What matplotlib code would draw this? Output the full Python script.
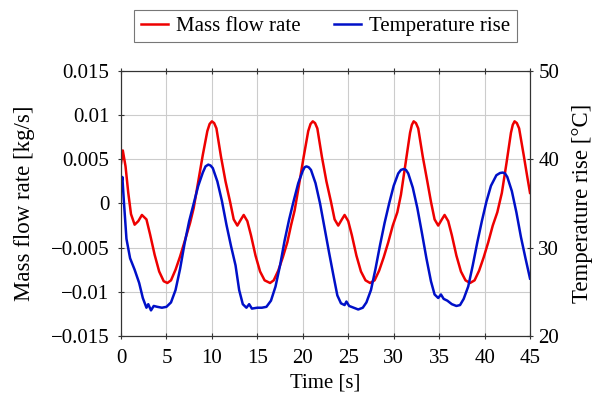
import numpy as np
import matplotlib
matplotlib.use('Agg')
import matplotlib.pyplot as plt
from matplotlib.ticker import FixedLocator, FixedFormatter

plt.rcParams['font.family'] = ['Liberation Serif', 'DejaVu Serif']

# mass flow rate [kg/s]
t_flow = [0.0, 0.2, 0.5, 0.8, 1.1, 1.5, 1.9, 2.3, 2.8, 3.2, 3.7, 4.2, 4.7, 5.1,
          5.5, 6.0, 6.5, 7.0, 7.6, 8.0, 8.5, 9.0, 9.5, 9.75, 10.0,
          10.25, 10.5, 11.0, 11.5, 12.0, 12.4, 12.8, 13.2, 13.5, 13.9, 14.3, 14.8, 15.3, 15.8, 16.4,
          16.8, 17.3, 17.8, 18.3, 18.7, 19.1, 19.6, 20.1, 20.6, 20.85, 21.1,
          21.35, 21.6, 22.1, 22.6, 23.1, 23.5, 23.9, 24.3, 24.6, 25.0, 25.4, 25.9, 26.4, 26.9, 27.4,
          27.9, 28.4, 28.9, 29.4, 29.9, 30.4, 30.8, 31.3, 31.8, 32.0, 32.2,
          32.45, 32.7, 33.2, 33.7, 34.1, 34.5, 34.9, 35.3, 35.6, 36.0, 36.4, 36.9, 37.4, 37.9, 38.4,
          38.9, 39.4, 39.9, 40.4, 40.9, 41.4, 41.9, 42.4, 42.9, 43.1, 43.3,
          43.55, 43.8, 44.3, 44.7, 45.0]
flow = [0.0045, 0.0060, 0.0042, 0.0012, -0.0012, -0.0024, -0.0020, -0.0013, -0.0018, -0.0035, -0.0058, -0.0077, -0.0088, -0.0090,
        -0.0087, -0.0075, -0.0060, -0.0043, -0.0022, -0.0005, 0.0025, 0.0055, 0.0082, 0.0090, 0.0093,
        0.0091, 0.0085, 0.0053, 0.0025, 0.0002, -0.0018, -0.0025, -0.0018, -0.0013, -0.0020, -0.0036, -0.0059, -0.0077, -0.0087, -0.0090,
        -0.0087, -0.0076, -0.0061, -0.0044, -0.0025, -0.0008, 0.0022, 0.0053, 0.0082, 0.0090, 0.0093,
        0.0091, 0.0085, 0.0053, 0.0025, 0.0002, -0.0018, -0.0025, -0.0018, -0.0013, -0.0020, -0.0036, -0.0059, -0.0077, -0.0087, -0.0090,
        -0.0087, -0.0076, -0.0061, -0.0044, -0.0025, -0.0010, 0.0010, 0.0045, 0.0080, 0.0089, 0.0093,
        0.0091, 0.0085, 0.0053, 0.0025, 0.0002, -0.0018, -0.0025, -0.0018, -0.0013, -0.0020, -0.0036, -0.0059, -0.0077, -0.0087, -0.0090,
        -0.0087, -0.0076, -0.0061, -0.0044, -0.0025, -0.0010, 0.0012, 0.0045, 0.0080, 0.0089, 0.0093,
        0.0091, 0.0085, 0.0055, 0.0030, 0.0012]

# temperature rise [degC]
t_temp = [0.0, 0.15, 0.3, 0.6, 1.0, 1.5, 2.0, 2.4, 2.8, 3.0, 3.3, 3.6, 4.0, 4.5, 5.0,
          5.5, 6.0, 6.5, 7.0, 7.5, 8.0, 8.5, 9.0, 9.3, 9.6,
          9.85, 10.1, 10.6, 11.1, 11.6, 12.1, 12.6, 13.0, 13.4, 13.8, 14.1, 14.4, 15.0, 15.5, 16.0,
          16.5, 17.0, 17.5, 18.0, 18.5, 19.0, 19.5, 20.0, 20.2, 20.4,
          20.65, 20.9, 21.4, 21.9, 22.4, 22.9, 23.4, 23.8, 24.2, 24.6, 24.8, 25.1, 25.6, 26.1, 26.6,
          27.0, 27.5, 28.0, 28.5, 29.0, 29.5, 30.0, 30.5, 30.8, 31.1,
          31.35, 31.6, 32.1, 32.6, 33.1, 33.6, 34.1, 34.5, 34.9, 35.2, 35.5, 35.9, 36.4, 36.9, 37.3,
          37.7, 38.2, 38.7, 39.2, 39.7, 40.2, 40.7, 41.3, 41.7, 42.0,
          42.25, 42.5, 43.0, 43.5, 44.0, 44.5, 45.0]
temp = [37.0, 38.0, 35.5, 31.0, 28.8, 27.5, 26.0, 24.3, 23.2, 23.6, 22.9, 23.4, 23.3, 23.2, 23.3,
        23.8, 25.2, 27.6, 30.5, 33.0, 35.0, 37.0, 38.5, 39.2, 39.4,
        39.3, 39.0, 37.5, 35.3, 32.6, 30.2, 28.0, 25.2, 23.6, 23.2, 23.6, 23.1, 23.2, 23.2, 23.3,
        24.0, 25.6, 28.0, 30.8, 33.2, 35.3, 37.3, 38.7, 39.1, 39.2,
        39.1, 38.8, 37.3, 35.0, 32.2, 29.4, 26.7, 24.6, 23.7, 23.5, 23.9, 23.4, 23.2, 23.0, 23.2,
        23.8, 25.2, 27.6, 30.3, 32.8, 35.0, 37.0, 38.4, 38.8, 38.9,
        38.8, 38.4, 36.8, 34.5, 31.7, 28.8, 26.2, 24.7, 24.3, 24.7, 24.2, 24.0, 23.6, 23.4, 23.5,
        24.2, 25.6, 28.0, 30.6, 33.0, 35.2, 37.0, 38.2, 38.45, 38.5,
        38.4, 38.0, 36.4, 34.0, 31.2, 28.8, 26.5]

y_ticks = [-0.015, -0.01, -0.005, 0, 0.005, 0.01, 0.015]
y_labels = ['\u22120.015', '\u22120.01', '\u22120.005', '0', '0.005', '0.01', '0.015']

fig = plt.figure(figsize=(5.94, 3.95), dpi=100)
ax = fig.add_axes([0.2037, 0.1494, 0.6886, 0.6709])
ax2 = ax.twinx()

l1, = ax.plot(t_flow, flow, color='#ee0000', lw=1.8, label='Mass flow rate')
l2, = ax2.plot(t_temp, temp, color='#0010c8', lw=1.8, label='Temperature rise')

ax.set_xlim(0, 45)
ax.set_ylim(-0.015, 0.015)
ax2.set_ylim(20, 50)
ax.set_xticks(np.arange(0, 46, 5))
ax.yaxis.set_major_locator(FixedLocator(y_ticks))
ax.yaxis.set_major_formatter(FixedFormatter(y_labels))
ax2.set_yticks([20, 30, 40, 50])
ax.grid(True, color='#cccccc', lw=0.8)
ax.set_axisbelow(True)
for a in (ax, ax2):
    for s in a.spines.values():
        s.set_color('#333333')
        s.set_linewidth(0.8)

fs = 15
ax.tick_params(labelsize=fs, direction='inout', length=5, width=0.8, top=True, color='#333333')
ax.tick_params(axis='x', pad=7)
ax.tick_params(axis='y', pad=6)
ax2.tick_params(labelsize=fs, direction='inout', length=5, width=0.8, color='#333333')
ax.set_xlabel('Time [s]', fontsize=fs, labelpad=4)
ax.set_ylabel('Mass flow rate [kg/s]', fontsize=16.5, labelpad=11)
ax2.set_ylabel('Temperature rise [\u00b0C]', fontsize=16.5, labelpad=9)

leg = fig.legend(handles=[l1, l2], loc='center', bbox_to_anchor=(0.548, 0.934), ncol=2,
                 fontsize=fs, frameon=True, fancybox=False, edgecolor='#555555',
                 handlelength=1.3, columnspacing=1.6, borderpad=0.3, handletextpad=0.4)
leg.get_frame().set_linewidth(0.8)

fig.savefig('out.png', dpi=100)
